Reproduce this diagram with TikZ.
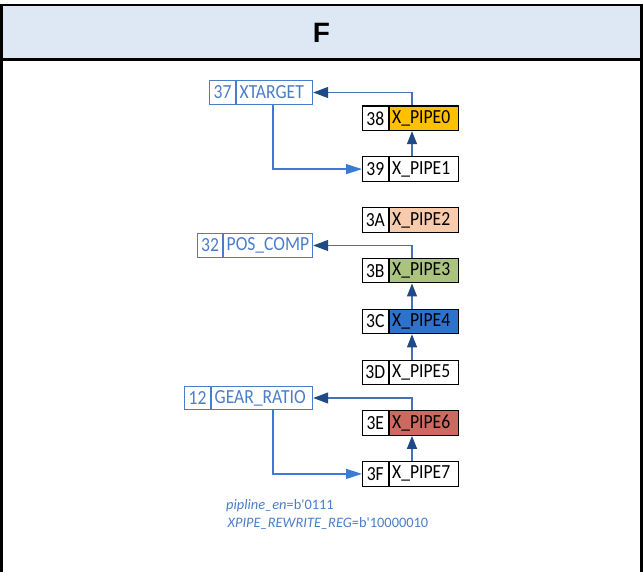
\documentclass[tikz,border=0pt]{standalone}
\usepackage{fontspec}
\setmainfont{Carlito}
\newfontfamily\cellfont{Carlito}[FakeStretch=0.88]
\newfontfamily\titlefont{Liberation Sans}
\usetikzlibrary{arrows.meta}
\definecolor{headfill}{HTML}{DEE8F4}
\definecolor{lblue}{HTML}{4A7DC9}
\definecolor{linec}{HTML}{4472B4}
\definecolor{darkhead}{HTML}{1F4A86}
\definecolor{brightc}{HTML}{3A7BD5}
\definecolor{cPipeZero}{HTML}{FFC000}
\definecolor{cPipeTwo}{HTML}{F8CBAD}
\definecolor{cPipeThree}{HTML}{AAC47F}
\definecolor{cPipeFour}{HTML}{2F72C9}
\definecolor{cPipeSix}{HTML}{CC6A62}
\begin{document}
\begin{tikzpicture}[x=1pt,y=-1pt,
  cellfnt/.style={font=\cellfont\fontsize{20}{21}\selectfont},
  numcell/.style={draw, line width=1.1pt, minimum width=25.5pt, minimum height=24.5pt, inner sep=0pt, anchor=west, cellfnt},
  namecell/.style={draw, line width=1.1pt, minimum height=24.5pt, inner xsep=3pt, inner ysep=0pt, align=left, anchor=west, cellfnt},
  pipename/.style={namecell, text width=63.5pt},
  regnum/.style={numcell, draw=lblue, text=lblue, minimum width=#1, minimum height=23.5pt},
  regname/.style={namecell, draw=lblue, text=lblue, text width=#1, minimum height=23.5pt},
  uparrow/.style={draw=linec, line width=1.2pt, -{Triangle[length=13pt,width=10pt,color=darkhead]}},
  tobox/.style={draw=linec, line width=1.2pt, -{Triangle[length=15pt,width=11pt,color=darkhead]}},
  downarrow/.style={draw=brightc, line width=1.2pt, -{Triangle[length=16pt,width=10pt,color=brightc]}},
  notefnt/.style={font=\fontsize{14.4}{16}\selectfont, text=lblue, inner sep=0pt, anchor=base west}
]
\useasboundingbox (0,0) rectangle (643,572);
\begin{scope}
\clip (0,0) rectangle (643,572);
\draw[line width=2.5pt] (1.3,5) rectangle (641.7,600);
\filldraw[fill=headfill, line width=2.5pt] (1.3,5) rectangle (641.7,59.5);
\end{scope}
\node[font=\titlefont\bfseries\fontsize{28}{30}\selectfont, inner sep=0pt] (title) at (321.5,33) {F};

% right column rows
\node[numcell] (n38) at (362,118.3) {38};
\node[pipename, fill=cPipeZero] (m38) at (n38.east) {X\_PIPE0};
\node[numcell] (n39) at (362,169.1) {39};
\node[pipename] (m39) at (n39.east) {X\_PIPE1};
\node[numcell] (n3A) at (362,219.9) {3A};
\node[pipename, fill=cPipeTwo] (m3A) at (n3A.east) {X\_PIPE2};
\node[numcell] (n3B) at (362,270.7) {3B};
\node[pipename, fill=cPipeThree] (m3B) at (n3B.east) {X\_PIPE3};
\node[numcell] (n3C) at (362,321.5) {3C};
\node[pipename, fill=cPipeFour] (m3C) at (n3C.east) {X\_PIPE4};
\node[numcell] (n3D) at (362,372.3) {3D};
\node[pipename] (m3D) at (n3D.east) {X\_PIPE5};
\node[numcell] (n3E) at (362,423.1) {3E};
\node[pipename, fill=cPipeSix] (m3E) at (n3E.east) {X\_PIPE6};
\node[numcell] (n3F) at (362,473.9) {3F};
\node[pipename] (m3F) at (n3F.east) {X\_PIPE7};

% left register boxes
\node[regnum=26pt] (xtnum) at (209,92.5) {37};
\node[regname=70pt] (xtname) at (xtnum.east) {XTARGET};
\node[regnum=25pt] (pcnum) at (197,245.5) {32};
\node[regname=83pt] (pcname) at (pcnum.east) {POS\_COMP};
\node[regnum=26pt] (grnum) at (184,398) {12};
\node[regname=95pt] (grname) at (grnum.east) {GEAR\_RATIO};

\coordinate (colx) at (412,0);
\coordinate (downx) at (273,0);

% upward arrows
\draw[uparrow] (m39.north -| colx) -- (m38.south -| colx);
\draw[uparrow] (m3C.north -| colx) -- (m3B.south -| colx);
\draw[uparrow] (m3D.north -| colx) -- (m3C.south -| colx);
\draw[uparrow] (m3F.north -| colx) -- (m3E.south -| colx);

% to register boxes
\draw[tobox] (m38.north -| colx) |- (xtname.east);
\draw[tobox] (m3B.north -| colx) |- (pcname.east);
\draw[tobox] (m3E.north -| colx) |- (grname.east);

% from register boxes
\draw[downarrow] (xtname.south -| downx) |- (n39.west);
\draw[downarrow] (grname.south -| downx) |- (n3F.west);

% notes
\node[notefnt] (note1) at (226,509.5) {\textit{pipline\_en}=b\textquotesingle0111};
\node[notefnt] (note2) at (227.5,527) {\textit{XPIPE\_REWRITE\_REG}=b\textquotesingle10000010};
\end{tikzpicture}
\end{document}
